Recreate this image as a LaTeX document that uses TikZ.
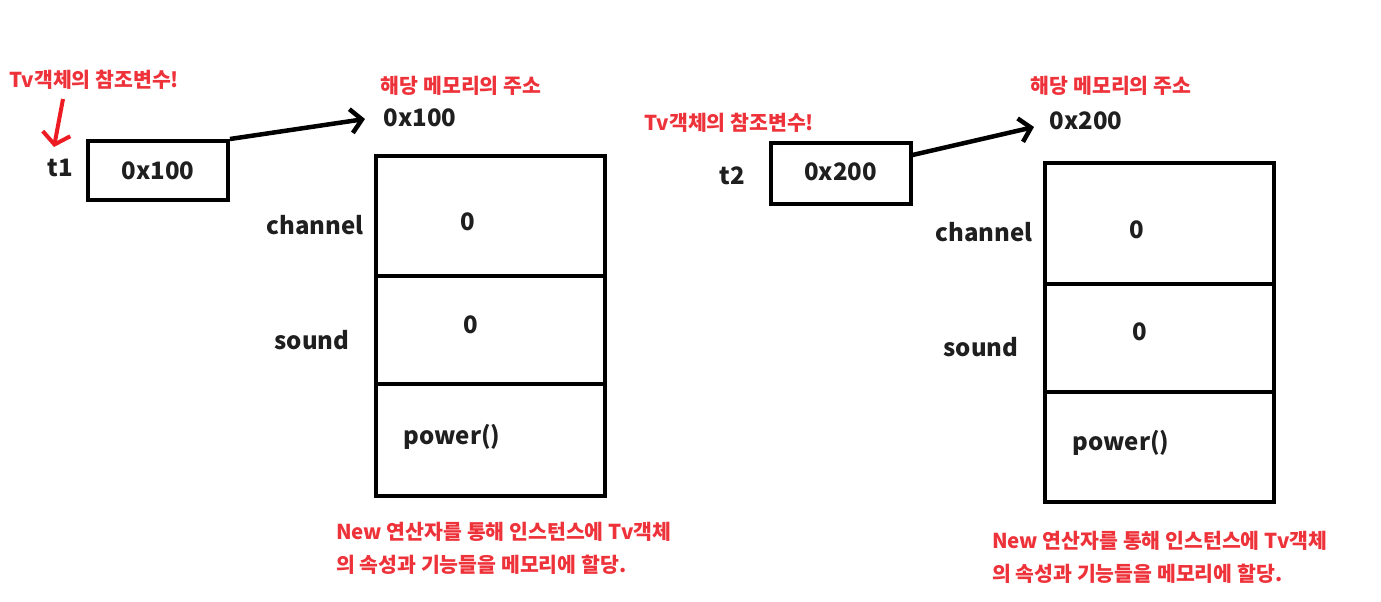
\documentclass[tikz,border=0pt]{standalone}
\usepackage{fontspec}
\setmainfont{Noto Sans CJK KR}
\usetikzlibrary{arrows.meta}
\definecolor{memred}{RGB}{238,50,58}
\definecolor{arrred}{RGB}{237,28,36}
\tikzset{
  blk/.style={font=\fontsize{24}{28}\selectfont\bfseries, text=black!88, inner sep=0pt},
  rd/.style={font=\fontsize{20.5}{24}\selectfont\bfseries, text=memred, inner sep=0pt},
  refbox/.style={draw, line width=4pt, minimum width=140pt, minimum height=59pt, inner sep=0pt,
     font=\fontsize{24}{28}\selectfont\bfseries, text=black!88},
  cell/.style={draw, line width=4pt, minimum width=229pt, inner sep=0pt},
  ptr/.style={line width=4.5pt, -{Straight Barb[length=11pt,width=24pt,line width=4.5pt]}},
  redptr/.style={line width=4pt, arrred, -{Straight Barb[length=11pt,width=28pt,line width=4pt]}},
}
\begin{document}
\begin{tikzpicture}[x=1pt,y=-1pt]
\useasboundingbox (0,0) rectangle (1381,602);
% ---------- left ----------
\node[rd, anchor=west] (ref1) at (9,80) {Tv객체의 참조변수!};
\coordinate (r1s) at (63,99);
\coordinate (r1e) at (54,147);
\draw[redptr] (r1s) -- (r1e);
\node[blk] (t1) at (60,168) {t1};
\node[refbox] (box1) at (158,170.5) {0x100};
\node[rd] (mem1) at (461,86) {해당 메모리의 주소};
\node[blk] (addr1) at (420,118) {0x100};
\coordinate (a1) at (365,119);
\draw[ptr] (box1.north east) -- (a1);
\node[cell, minimum height=120pt, anchor=north west] (c1a) at (374,154) {};
\node[cell, minimum height=108pt, anchor=north west] (c1b) at (374,274) {};
\node[cell, minimum height=112pt, anchor=north west] (c1c) at (374,382) {};
\node[blk] (ch1) at (315,225) {channel};
\node[blk] (v1a) at (468,222) {0};
\node[blk] (so1) at (312,340) {sound};
\node[blk] (v1b) at (471,325) {0};
\node[blk] (pw1) at (452,437) {power()};
\node[rd, anchor=north west, align=left, font=\fontsize{20.5}{33}\selectfont\bfseries] (note1) at (336,522)
  {New 연산자를 통해 인스턴스에 Tv객체\\의 속성과 기능들을 메모리에 할당.};
% ---------- right ----------
\node[rd, anchor=west] (ref2) at (644,123) {Tv객체의 참조변수!};
\node[blk] (t2) at (732,176) {t2};
\node[refbox, minimum height=61pt] (box2) at (840.5,173.5) {\raisebox{4pt}{0x200}};
\node[rd] (mem2) at (1111,86) {해당 메모리의 주소};
\node[blk] (addr2) at (1086,121) {0x200};
\coordinate (a2) at (1034,127);
\draw[ptr] ([yshift=-14pt]box2.north east) -- (a2);
\node[cell, minimum height=121pt, anchor=north west] (c2a) at (1043,161) {};
\node[cell, minimum height=108pt, anchor=north west] (c2b) at (1043,282) {};
\node[cell, minimum height=110pt, anchor=north west] (c2c) at (1043,390) {};
\node[blk] (ch2) at (984,232) {channel};
\node[blk] (v2a) at (1137,230) {0};
\node[blk] (so2) at (981,347) {sound};
\node[blk] (v2b) at (1140,332) {0};
\node[blk] (pw2) at (1121,443) {power()};
\node[rd, anchor=north west, align=left, font=\fontsize{20.5}{33}\selectfont\bfseries] (note2) at (992,531)
  {New 연산자를 통해 인스턴스에 Tv객체\\의 속성과 기능들을 메모리에 할당.};
\end{tikzpicture}
\end{document}
